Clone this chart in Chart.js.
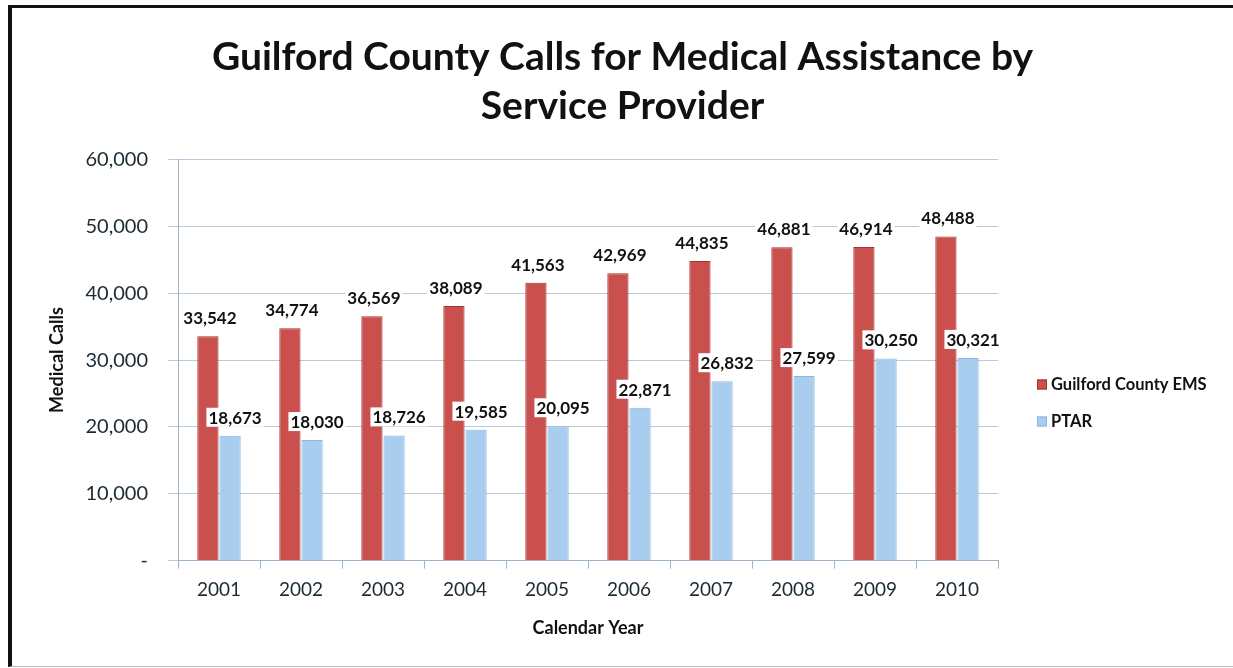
<!DOCTYPE html>
<html>
<head>
<meta charset="utf-8">
<script src="https://cdn.jsdelivr.net/npm/chart.js@4/dist/chart.umd.min.js"></script>
<style>
  html, body { margin: 0; padding: 0; background: #fff; }
  #wrap { position: relative; width: 1233px; height: 668px; overflow: hidden; }
  #frame { position: absolute; left: 8px; top: 5px; width: 1240px; height: 658px;
           border-left: 4px solid #111; border-top: 3px solid #111; border-bottom: 1px solid #bbb; }
  canvas { position: absolute; left: 0; top: 0; }
</style>
</head>
<body>
<div id="wrap">
  <div id="frame"></div>
  <canvas id="chart" width="1233" height="668"></canvas>
</div>
<script>
const years = ['2001', '2002', '2003', '2004', '2005', '2006', '2007', '2008', '2009', '2010'];
const ems_calls = [33542, 34774, 36569, 38089, 41563, 42969, 44835, 46881, 46914, 48488];
const ptar_calls = [18673, 18030, 18726, 19585, 20095, 22871, 26832, 27599, 30250, 30321];
const title_lines = ['Guilford County Calls for Medical Assistance by', 'Service Provider'];

const font_family = 'Lato, "Open Sans", sans-serif';
const text_color = '#1c2b33';

// value labels over each bar, white box behind them like the original
const barLabels = {
    id: 'barLabels',
    afterDatasetsDraw(chart) {
        const ctx = chart.ctx;
        ctx.save();
        ctx.font = 'bold 17px ' + font_family;
        ctx.textAlign = 'center';
        ctx.textBaseline = 'bottom';
        chart.data.datasets.forEach((ds, di) => {
            const meta = chart.getDatasetMeta(di);
            meta.data.forEach((bar, i) => {
                const txt = ds.data[i].toLocaleString('en-US');
                const x = bar.x + (di == 1 ? 5 : 2);
                const y = bar.y - 9;
                const w = ctx.measureText(txt).width;
                ctx.fillStyle = '#ffffff';
                ctx.fillRect(x - w / 2 - 2, y - 19, w + 4, 19);
                ctx.fillStyle = '#111';
                ctx.fillText(txt, x, y);
            });
        });
        ctx.restore();
    }
};

// legend to the right of the plot, drawn by hand so it sits where the original has it
const sideLegend = {
    id: 'sideLegend',
    afterDraw(chart) {
        const ctx = chart.ctx;
        const area = chart.chartArea;
        const x = area.right + 39;
        let y = area.top + 225;
        ctx.save();
        ctx.font = 'bold 16.5px ' + font_family;
        ctx.textBaseline = 'middle';
        chart.data.datasets.forEach((ds) => {
            ctx.fillStyle = ds.backgroundColor;
            ctx.fillRect(x, y - 5, 10, 10);
            ctx.strokeStyle = ds.borderColor;
            ctx.lineWidth = 1;
            ctx.strokeRect(x + 0.5, y - 4.5, 9, 9);
            ctx.fillStyle = '#111';
            ctx.fillText(ds.label, x + 14, y);
            y += 37;
        });
        ctx.restore();
    }
};

const ctx = document.getElementById('chart').getContext('2d');
const myChart = new Chart(ctx, {
    type: 'bar',
    data: {
        labels: years,
        datasets: [
            {
                label: 'Guilford County EMS',
                data: ems_calls,
                backgroundColor: '#c9504c',
                borderColor: '#a5332f',
                borderWidth: 1
            },
            {
                label: 'PTAR',
                data: ptar_calls,
                backgroundColor: '#a9cdee',
                borderColor: '#8ab6e0',
                borderWidth: 1
            }
        ]
    },
    options: {
        responsive: false,
        animation: false,
        layout: { padding: { left: 42, right: 30, top: 33, bottom: 25 } },
        datasets: {
            bar: { categoryPercentage: 0.54, barPercentage: 0.96 }
        },
        plugins: {
            title: {
                display: true,
                text: title_lines,
                color: '#111',
                font: { family: font_family, size: 39, weight: 'bold', lineHeight: 1.25 },
                padding: { top: 0, bottom: 29 }
            },
            legend: { display: false },
            tooltip: { enabled: false }
        },
        scales: {
            x: {
                grid: { display: true, drawOnChartArea: false, drawTicks: true, tickLength: 8, color: '#9fb2c8' },
                border: { color: '#9fb2c8' },
                ticks: { color: text_color, font: { family: font_family, size: 19 }, padding: 10 },
                title: {
                    display: true,
                    text: 'Calendar Year',
                    color: '#111',
                    font: { family: font_family, size: 18, weight: 'bold' },
                    padding: { top: 6 }
                }
            },
            y: {
                min: 0,
                max: 60000,
                afterFit: (scale) => { scale.width = 136; },
                ticks: {
                    stepSize: 10000,
                    color: text_color,
                    font: { family: font_family, size: 20 },
                    padding: 20,
                    callback: (v) => v === 0 ? '-' : v.toLocaleString('en-US')
                },
                grid: { color: '#b9c8da', tickLength: 10 },
                border: { color: '#9fb2c8' },
                title: {
                    display: true,
                    text: 'Medical Calls',
                    color: '#111',
                    font: { family: font_family, size: 18, weight: 'bold' },
                    padding: { bottom: 10 }
                }
            },
            // empty axis on the right, only keeps room for the legend
            side: {
                position: 'right',
                display: true,
                afterFit: (scale) => { scale.width = 205; },
                ticks: { display: false },
                grid: { display: false },
                border: { display: false }
            }
        }
    },
    plugins: [barLabels, sideLegend]
});
</script>
</body>
</html>
